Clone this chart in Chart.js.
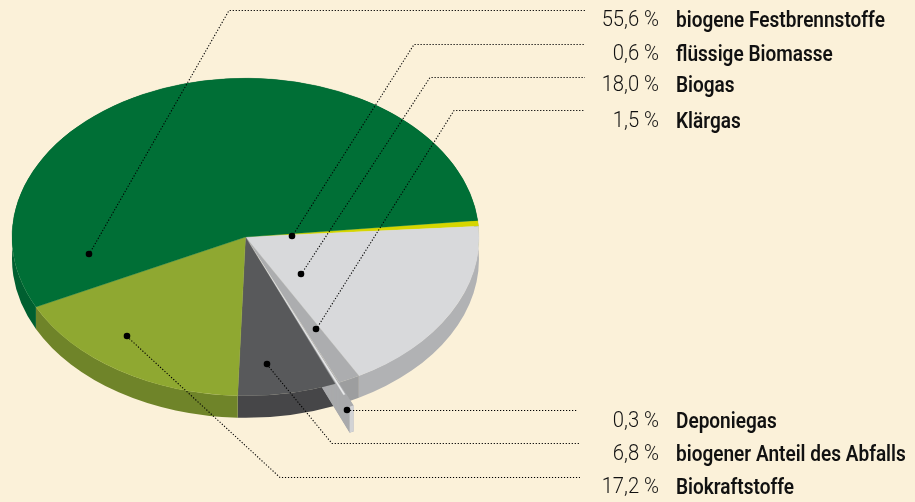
<!DOCTYPE html>
<html><head><meta charset="utf-8">
<script src="https://cdn.jsdelivr.net/npm/chart.js@4"></script>
<style>html,body{margin:0;padding:0;background:#fbf1d9;overflow:hidden}canvas{display:block}</style>
</head><body><canvas id="c" width="915" height="502"></canvas>
<script>
const categories = ["flüssige Biomasse","Biogas","Klärgas","Deponiegas","biogener Anteil des Abfalls","Biokraftstoffe","biogene Festbrennstoffe"];
const shares = [0.6,18.0,1.5,0.3,6.8,17.2,55.6];
const shareLabels = ["0,6 %","18,0 %","1,5 %","0,3 %","6,8 %","17,2 %","55,6 %"];
const topColors = ["#d6d600","#d8d9db","#acadaf","#e9eaeb","#58595b","#8fa831","#006f36"];
const wallColors = ["#a8a820","#b1b2b4","#9d9e9f","#a9aaac","#464648","#6f8429","#005f30"];
const slotOrder = [6,0,1,2,3,4,5];

const SQUASH = 0.68, DEPTH = 22, CY = 237;
const OFFSETS = shares.map(s => s === 0.3 ? 37 : 0);
const LABEL_SCALE = 0.885, SHARE_SCALE = 0.94;

const leaders = [
 [[89,254],[229,10],[585,10]],
 [[292,236],[414,44],[585,44]],
 [[301,274],[430,77],[585,77]],
 [[316,329],[454,110],[585,110]],
 [[347,410],[578,410]],
 [[267,364],[332,443],[580,443]],
 [[127,336],[280,477],[580,477]]
];
const rowY = [27,61,92,128,428,461,494];

function squash(ctx, el, dy){
  ctx.translate(0, CY + dy);
  ctx.scale(1, SQUASH);
  ctx.translate(0, -el.y);
}
function sector(ctx, el){
  const off = el.options.offset || 0, mid = (el.startAngle + el.endAngle) / 2;
  const x = el.x + Math.cos(mid) * off, y = el.y + Math.sin(mid) * off;
  ctx.beginPath(); ctx.moveTo(x, y);
  ctx.arc(x, y, el.outerRadius, el.startAngle, el.endAngle);
  ctx.closePath(); ctx.fill();
}
function rimBand(ctx, el, color){
  const off = el.options.offset || 0, mid = (el.startAngle + el.endAngle) / 2;
  const x = el.x + Math.cos(mid) * off, y = CY + Math.sin(mid) * off * SQUASH;
  const R = el.outerRadius, Ry = R * SQUASH;
  ctx.fillStyle = color;
  ctx.beginPath();
  ctx.ellipse(x, y, R, Ry, 0, el.startAngle, el.endAngle);
  ctx.ellipse(x, y + DEPTH + (off ? 4 : 0), R, Ry, 0, el.endAngle, el.startAngle, true);
  ctx.closePath(); ctx.fill();
}
const pie3d = {
  id: 'pie3d',
  beforeDatasetDraw(chart){
    const ctx = chart.ctx, arcs = chart.getDatasetMeta(0).data;
    arcs.forEach((el, i) => { if (!el.options.offset) rimBand(ctx, el, wallColors[i]); });
    arcs.forEach((el, i) => {
      if (!el.options.offset) return;
      ctx.fillStyle = wallColors[i];
      for (let d = DEPTH + 4; d >= 0; d -= 0.5) {
        ctx.save(); squash(ctx, el, d); sector(ctx, el); ctx.restore();
      }
      rimBand(ctx, el, '#d2d3d5');
    });
    ctx.save();
    squash(ctx, arcs[0], 0);
  },
  afterDatasetDraw(chart){
    chart.ctx.restore();
  },
  afterDraw(chart){
    const ctx = chart.ctx;
    ctx.save();
    leaders.forEach(pts => {
      ctx.strokeStyle = '#000'; ctx.lineWidth = 1.1; ctx.setLineDash([1.2,1.8]);
      ctx.beginPath();
      pts.forEach((p, i) => i ? ctx.lineTo(p[0], p[1] + .5) : ctx.moveTo(p[0], p[1] + .5));
      ctx.stroke();
      ctx.setLineDash([]); ctx.fillStyle = '#000';
      ctx.beginPath(); ctx.arc(pts[0][0], pts[0][1], 3.3, 0, 7); ctx.fill();
    });
    ctx.fillStyle = '#111'; ctx.textBaseline = 'alphabetic';
    const put = (txt, x, y, font, align, sx) => {
      ctx.save(); ctx.translate(x, y); ctx.scale(sx, 1);
      ctx.font = font; ctx.textAlign = align;
      ctx.fillText(txt, 0, 0); ctx.restore();
    };
    slotOrder.forEach((idx, r) => {
      put(shareLabels[idx], 659, rowY[r] - 1, "300 21.5px Roboto", 'right', SHARE_SCALE);
      put(categories[idx], 676, rowY[r], "600 21.5px Roboto", 'left', LABEL_SCALE);
    });
    ctx.restore();
  }
};
new Chart(document.getElementById('c'), {
  type: 'pie',
  data: { labels: categories, datasets: [{
    data: shares, backgroundColor: topColors, borderColor: topColors, borderWidth: 0.4,
    offset: OFFSETS, radius: 233.5, clip: false
  }]},
  options: {
    responsive: false, animation: false, rotation: 84,
    layout: { padding: { left: 0, right: 424, top: 0, bottom: 0 } },
    plugins: { legend: { display: false }, tooltip: { enabled: false } }
  },
  plugins: [pie3d]
});
</script></body></html>
